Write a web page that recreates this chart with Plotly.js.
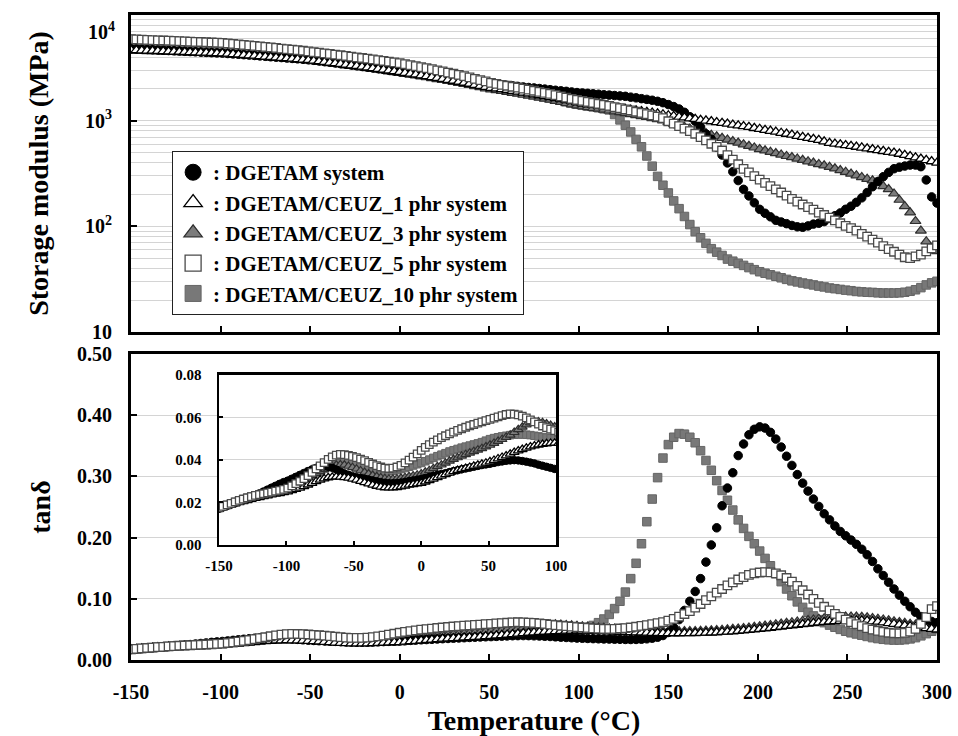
<!DOCTYPE html>
<html>
<head>
<meta charset="utf-8">
<script src="https://cdn.plot.ly/plotly-3.0.1.min.js"></script>
<style>
html,body{margin:0;padding:0;background:#fff;}
#chart{width:958px;height:736px;}
</style>
</head>
<body>
<div id="chart"></div>
<script>
// ---------------- DATA ----------------
const temperature = [
-150,-147,-144,-141,-138,-135,-132,-129,-126,-123,
-120,-117,-114,-111,-108,-105,-102,-99,-96,-93,
-90,-87,-84,-81,-78,-75,-72,-69,-66,-63,
-60,-57,-54,-51,-48,-45,-42,-39,-36,-33,
-30,-27,-24,-21,-18,-15,-12,-9,-6,-3,
0,3,6,9,12,15,18,21,24,27,
30,33,36,39,42,45,48,51,54,57,
60,63,66,69,72,75,78,81,84,87,
90,93,96,99,102,105,108,111,114,117,
120,123,126,129,132,135,138,141,144,147,
150,153,156,159,162,165,168,171,174,177,
180,183,186,189,192,195,198,201,204,207,
210,213,216,219,222,225,228,231,234,237,
240,243,246,249,252,255,258,261,264,267,
270,273,276,279,282,285,288,291,294,297,
300];

// Storage modulus (MPa)
const E_DGETAM = [
4800,4770,4745,4720,4690,4665,4640,4610,4585,4560,
4530,4505,4480,4450,4425,4400,4380,4360,4320,4285,
4250,4210,4175,4140,4100,4065,4025,3990,3955,3915,
3880,3845,3805,3770,3725,3675,3620,3570,3520,3465,
3415,3365,3310,3260,3210,3155,3105,3055,3000,2950,
2900,2860,2820,2780,2740,2700,2660,2620,2585,2545,
2505,2465,2425,2385,2345,2305,2270,2230,2205,2180,
2155,2135,2110,2085,2060,2040,2015,1990,1965,1940,
1915,1895,1870,1845,1830,1815,1795,1780,1760,1745,
1730,1715,1700,1670,1645,1615,1590,1560,1525,1480,
1420,1360,1290,1200,1090,990,870,750,668,562,
473,398,329,271,224,194,167,145,133,123,
114,110,106,102,99,98,101,105,107,111,
119,126,134,145,155,169,186,209,237,266,
295,324,351,363,372,380,380,367,275,190,
166];
const E_CEUZ1 = [
4650,4630,4610,4595,4575,4555,4535,4515,4495,4480,
4460,4440,4420,4400,4385,4365,4345,4325,4290,4255,
4220,4180,4145,4110,4070,4035,3995,3960,3925,3885,
3850,3815,3775,3740,3690,3640,3590,3540,3490,3440,
3385,3335,3285,3235,3185,3135,3085,3035,2980,2930,
2880,2830,2780,2730,2680,2630,2580,2530,2480,2430,
2380,2330,2280,2230,2180,2130,2080,2040,2015,1980,
1945,1910,1875,1840,1805,1770,1735,1700,1665,1630,
1595,1560,1525,1490,1445,1425,1405,1385,1365,1345,
1325,1305,1285,1265,1245,1225,1205,1185,1165,1145,
1120,1105,1085,1070,1050,1035,1015,1000,985,965,
950,935,915,900,885,870,850,835,815,800,
785,765,750,735,715,700,685,670,655,635,
615,605,595,585,575,565,555,545,535,525,
515,505,497,485,473,460,448,435,423,412,
400];
const E_CEUZ3 = [
4600,4580,4565,4545,4530,4510,4490,4475,4455,4440,
4420,4400,4385,4365,4350,4330,4310,4295,4260,4220,
4185,4150,4110,4075,4035,4000,3960,3925,3890,3850,
3815,3775,3740,3705,3645,3595,3545,3490,3440,3390,
3335,3285,3230,3180,3130,3075,3025,2975,2920,2870,
2820,2770,2720,2670,2620,2570,2520,2470,2420,2370,
2320,2270,2220,2170,2120,2070,2020,1975,1940,1905,
1865,1830,1795,1755,1720,1685,1645,1610,1575,1535,
1500,1465,1425,1390,1365,1340,1315,1295,1270,1245,
1220,1200,1175,1150,1125,1100,1080,1055,1030,1005,
966,933,902,871,841,813,785,759,733,708,
684,661,638,617,596,575,556,537,521,506,
491,476,462,450,437,424,411,399,387,376,
365,352,339,327,314,303,292,281,271,260,
240,224,204,178,155,135,112,91,72,62,
58];
const E_CEUZ5 = [
5900,5875,5845,5820,5790,5765,5740,5710,5685,5655,
5630,5605,5575,5550,5520,5495,5470,5440,5385,5330,
5270,5215,5155,5100,5045,4985,4930,4875,4815,4760,
4700,4645,4590,4530,4460,4400,4340,4280,4220,4160,
4100,4040,3980,3920,3860,3800,3740,3680,3620,3560,
3500,3430,3355,3285,3210,3140,3070,2995,2925,2850,
2780,2710,2635,2565,2490,2420,2350,2275,2230,2185,
2140,2095,2055,2010,1965,1920,1875,1830,1790,1745,
1700,1655,1610,1570,1540,1505,1475,1440,1410,1380,
1345,1315,1280,1250,1215,1185,1155,1120,1090,1055,
988,936,887,841,798,752,700,650,605,565,
522,472,428,387,350,324,299,277,258,240,
224,209,195,182,171,161,152,144,135,128,
121,114,107,101,96,91,85,80,75,70,
65,61,57.5,54,51,50,52,54,58,62,
66];
const E_CEUZ10 = [
5200,5175,5150,5130,5105,5080,5055,5030,5005,4985,
4960,4935,4910,4885,4860,4840,4815,4790,4745,4700,
4655,4610,4565,4520,4475,4430,4385,4340,4295,4250,
4205,4160,4115,4070,4015,3955,3900,3845,3785,3730,
3670,3615,3560,3500,3445,3385,3330,3270,3215,3155,
3100,3045,2985,2930,2870,2815,2760,2700,2645,2585,
2530,2470,2415,2360,2300,2245,2185,2130,2090,2045,
2000,1955,1910,1870,1825,1780,1735,1690,1650,1605,
1560,1515,1470,1430,1400,1375,1350,1325,1295,1265,
1143,1017,906,782,665,566,463,371,297,245,
207,174,147,124,104,89,78,69,61.5,57,
53,49,46.8,44.7,42.7,40.7,38.9,37.2,36,34.8,
33.7,32.6,31.5,30.5,29.8,29.1,28.5,27.9,27.2,26.7,
26.1,25.7,25.3,24.9,24.6,24.2,24.0,23.8,23.7,23.5,
23.4,23.4,23.4,23.5,23.8,24.3,25.1,26.3,27.9,29.2,
30.2];

// tan delta
const tan_DGETAM = [
0.0170,0.0177,0.0184,0.0191,0.0198,0.0205,0.0212,0.0219,0.0227,0.0235,
0.0243,0.0252,0.0261,0.0270,0.0279,0.0288,0.0296,0.0303,0.0312,0.0321,
0.0330,0.0339,0.0348,0.0356,0.0363,0.0368,0.0370,0.0368,0.0363,0.0355,
0.0345,0.0337,0.0330,0.0324,0.0319,0.0315,0.0312,0.0308,0.0304,0.0300,
0.0296,0.0293,0.0291,0.0291,0.0292,0.0294,0.0297,0.0301,0.0304,0.0307,
0.0310,0.0315,0.0320,0.0325,0.0330,0.0334,0.0338,0.0343,0.0348,0.0352,
0.0356,0.0360,0.0364,0.0368,0.0372,0.0376,0.0379,0.0382,0.0386,0.0390,
0.0393,0.0396,0.0398,0.0399,0.0398,0.0395,0.0392,0.0388,0.0384,0.0378,
0.0373,0.0368,0.0363,0.0358,0.0355,0.0352,0.0349,0.0346,0.0344,0.0342,
0.0340,0.0338,0.0336,0.0335,0.0336,0.0340,0.0346,0.0356,0.0372,0.0400,
0.0450,0.0530,0.0660,0.0810,0.0960,0.1120,0.1330,0.1600,0.1880,0.2160,
0.2520,0.2810,0.3060,0.3340,0.3530,0.3680,0.3770,0.3810,0.3790,0.3720,
0.3610,0.3480,0.3330,0.3180,0.3030,0.2890,0.2760,0.2630,0.2510,0.2390,
0.2290,0.2190,0.2100,0.2030,0.1960,0.1890,0.1810,0.1720,0.1610,0.1490,
0.1380,0.1270,0.1160,0.1060,0.0960,0.0870,0.0780,0.0710,0.0660,0.0630,
0.0610];
const tan_CEUZ1 = [
0.0170,0.0176,0.0182,0.0188,0.0194,0.0200,0.0205,0.0210,0.0215,0.0220,
0.0224,0.0228,0.0232,0.0236,0.0240,0.0243,0.0247,0.0251,0.0256,0.0262,
0.0268,0.0275,0.0283,0.0291,0.0299,0.0306,0.0312,0.0317,0.0320,0.0321,
0.0320,0.0318,0.0315,0.0311,0.0306,0.0300,0.0294,0.0288,0.0282,0.0277,
0.0273,0.0270,0.0269,0.0269,0.0271,0.0274,0.0278,0.0282,0.0285,0.0288,
0.0291,0.0297,0.0304,0.0311,0.0318,0.0325,0.0332,0.0339,0.0346,0.0351,
0.0356,0.0361,0.0366,0.0371,0.0376,0.0381,0.0386,0.0392,0.0399,0.0406,
0.0413,0.0420,0.0428,0.0436,0.0443,0.0450,0.0456,0.0462,0.0467,0.0471,
0.0474,0.0477,0.0479,0.0480,0.0479,0.0477,0.0475,0.0472,0.0469,0.0466,
0.0462,0.0459,0.0456,0.0453,0.0450,0.0447,0.0444,0.0441,0.0439,0.0437,
0.0436,0.0435,0.0435,0.0436,0.0437,0.0439,0.0441,0.0444,0.0447,0.0451,
0.0456,0.0461,0.0467,0.0474,0.0481,0.0489,0.0497,0.0506,0.0515,0.0524,
0.0534,0.0544,0.0554,0.0564,0.0574,0.0584,0.0594,0.0603,0.0612,0.0620,
0.0627,0.0633,0.0638,0.0642,0.0645,0.0646,0.0644,0.0640,0.0633,0.0624,
0.0613,0.0601,0.0589,0.0576,0.0563,0.0551,0.0540,0.0529,0.0518,0.0507,
0.0496];
const tan_CEUZ3 = [
0.0173,0.0180,0.0187,0.0194,0.0201,0.0208,0.0214,0.0220,0.0226,0.0231,
0.0235,0.0239,0.0243,0.0247,0.0251,0.0255,0.0259,0.0264,0.0273,0.0283,
0.0294,0.0305,0.0316,0.0327,0.0337,0.0346,0.0355,0.0363,0.0370,0.0376,
0.0378,0.0376,0.0371,0.0365,0.0358,0.0350,0.0342,0.0335,0.0328,0.0322,
0.0317,0.0313,0.0311,0.0311,0.0312,0.0315,0.0318,0.0322,0.0326,0.0330,
0.0335,0.0343,0.0351,0.0360,0.0369,0.0377,0.0386,0.0395,0.0403,0.0411,
0.0419,0.0426,0.0433,0.0440,0.0447,0.0454,0.0462,0.0470,0.0479,0.0488,
0.0497,0.0507,0.0518,0.0530,0.0543,0.0555,0.0566,0.0575,0.0580,0.0580,
0.0576,0.0570,0.0563,0.0556,0.0549,0.0542,0.0535,0.0528,0.0522,0.0516,
0.0510,0.0505,0.0500,0.0496,0.0492,0.0488,0.0484,0.0480,0.0477,0.0474,
0.0472,0.0470,0.0469,0.0469,0.0470,0.0472,0.0474,0.0477,0.0481,0.0486,
0.0492,0.0498,0.0505,0.0512,0.0520,0.0529,0.0538,0.0548,0.0558,0.0569,
0.0580,0.0591,0.0603,0.0615,0.0627,0.0638,0.0649,0.0660,0.0670,0.0680,
0.0689,0.0697,0.0703,0.0707,0.0708,0.0706,0.0701,0.0693,0.0683,0.0671,
0.0658,0.0644,0.0630,0.0616,0.0603,0.0590,0.0578,0.0567,0.0557,0.0548,
0.0540];
const tan_CEUZ5 = [
0.0175,0.0182,0.0189,0.0196,0.0203,0.0210,0.0216,0.0222,0.0228,0.0233,
0.0237,0.0241,0.0245,0.0249,0.0253,0.0257,0.0262,0.0268,0.0278,0.0289,
0.0300,0.0312,0.0326,0.0342,0.0358,0.0372,0.0388,0.0403,0.0415,0.0423,
0.0426,0.0425,0.0422,0.0417,0.0411,0.0404,0.0397,0.0389,0.0381,0.0373,
0.0367,0.0362,0.0360,0.0362,0.0367,0.0375,0.0386,0.0399,0.0413,0.0429,
0.0445,0.0459,0.0472,0.0484,0.0495,0.0505,0.0514,0.0523,0.0531,0.0539,
0.0547,0.0554,0.0561,0.0567,0.0573,0.0579,0.0585,0.0591,0.0597,0.0603,
0.0609,0.0614,0.0617,0.0616,0.0612,0.0606,0.0598,0.0589,0.0579,0.0569,
0.0560,0.0552,0.0545,0.0538,0.0531,0.0524,0.0518,0.0513,0.0510,0.0509,
0.0510,0.0515,0.0522,0.0531,0.0543,0.0556,0.0570,0.0585,0.0601,0.0619,
0.0642,0.0672,0.0710,0.0752,0.0800,0.0855,0.0915,0.0978,0.1040,0.1100,
0.1160,0.1220,0.1270,0.1315,0.1355,0.1390,0.1415,0.1430,0.1437,0.1432,
0.1415,0.1385,0.1340,0.1280,0.1210,0.1140,0.1070,0.1000,0.0935,0.0870,
0.0810,0.0755,0.0705,0.0660,0.0620,0.0585,0.0552,0.0522,0.0497,0.0475,
0.0458,0.0445,0.0437,0.0435,0.0442,0.0462,0.0510,0.0590,0.0700,0.0830,
0.0880];
const tan_CEUZ10 = [
0.0175,0.0182,0.0189,0.0196,0.0203,0.0210,0.0217,0.0223,0.0229,0.0234,
0.0238,0.0242,0.0245,0.0249,0.0253,0.0257,0.0261,0.0266,0.0275,0.0285,
0.0296,0.0307,0.0318,0.0328,0.0337,0.0345,0.0360,0.0375,0.0388,0.0398,
0.0402,0.0400,0.0395,0.0390,0.0383,0.0376,0.0369,0.0362,0.0356,0.0352,
0.0349,0.0347,0.0347,0.0349,0.0352,0.0357,0.0362,0.0368,0.0374,0.0380,
0.0386,0.0394,0.0402,0.0410,0.0418,0.0425,0.0432,0.0440,0.0446,0.0452,
0.0458,0.0463,0.0468,0.0473,0.0478,0.0484,0.0491,0.0498,0.0503,0.0507,
0.0511,0.0514,0.0517,0.0519,0.0520,0.0520,0.0519,0.0517,0.0514,0.0511,
0.0508,0.0505,0.0502,0.0501,0.0510,0.0530,0.0565,0.0610,0.0670,0.0745,
0.0840,0.0960,0.1110,0.1330,0.1580,0.1900,0.2260,0.2630,0.2980,0.3300,
0.3520,0.3640,0.3700,0.3690,0.3640,0.3550,0.3420,0.3260,0.3100,0.2930,
0.2770,0.2610,0.2450,0.2290,0.2150,0.2020,0.1900,0.1780,0.1660,0.1540,
0.1410,0.1280,0.1160,0.1050,0.0950,0.0860,0.0780,0.0720,0.0660,0.0610,
0.0570,0.0535,0.0500,0.0470,0.0445,0.0425,0.0405,0.0385,0.0365,0.0350,
0.0338,0.0330,0.0326,0.0326,0.0332,0.0345,0.0365,0.0395,0.0430,0.0470,
0.0510];

const seriesLabels = [
  ': DGETAM system',
  ': DGETAM/CEUZ_1 phr system',
  ': DGETAM/CEUZ_3 phr system',
  ': DGETAM/CEUZ_5 phr system',
  ': DGETAM/CEUZ_10 phr system'
];
const xTickVals = [-150, -100, -50, 0, 50, 100, 150, 200, 250, 300];
const xTickText = ['-150', '-100', '-50', '0', '50', '100', '150', '200', '250', '300'];
const insetTickVals = [-150, -100, -50, 0, 50, 100];
const insetTickText = ['-150', '-100', '-50', '0', '50', '100'];
const yTickVals = [10, 100, 1000];
const yTickText = ['10', '10<sup>2</sup>', '10<sup>3</sup>'];

// ---------------- STYLE ----------------
const FONT = '"Liberation Serif", "Times New Roman", Times, serif';
const markerStyles = [
  {symbol: 'circle', color: '#000000', line: {color: '#000000', width: 1}},
  {symbol: 'triangle-up', color: '#ffffff', line: {color: '#000000', width: 1.3}},
  {symbol: 'triangle-up', color: '#7c7c7c', line: {color: '#2e2e2e', width: 1.2}},
  {symbol: 'square', color: '#ffffff', line: {color: '#4a4a4a', width: 1.3}},
  {symbol: 'square', color: '#787878', line: {color: '#656565', width: 1}}
];
const modulusSeries = [E_DGETAM, E_CEUZ1, E_CEUZ3, E_CEUZ5, E_CEUZ10];
const tanSeries = [tan_DGETAM, tan_CEUZ1, tan_CEUZ3, tan_CEUZ5, tan_CEUZ10];
const drawOrder = [4, 2, 0, 1, 3];

const traces = [];
function mk(st, size) {
  return {symbol: st.symbol, color: st.color, size: size, line: st.line};
}
drawOrder.forEach(k => {
  const st = markerStyles[k];
  const big = st.symbol === 'triangle-up' ? 9.5 : 8.5;
  traces.push({type: 'scatter', mode: 'markers', x: temperature, y: modulusSeries[k],
    xaxis: 'x', yaxis: 'y', marker: mk(st, big), showlegend: false, hoverinfo: 'skip'});
  traces.push({type: 'scatter', mode: 'markers', x: temperature, y: tanSeries[k],
    xaxis: 'x2', yaxis: 'y2', marker: mk(st, big), showlegend: false, hoverinfo: 'skip'});
  traces.push({type: 'scatter', mode: 'markers', x: temperature, y: tanSeries[k],
    xaxis: 'x3', yaxis: 'y3', marker: mk(st, big - 1), showlegend: false, hoverinfo: 'skip'});
});
// legend entries (no data points of their own)
markerStyles.forEach((st, k) => {
  traces.push({type: 'scatter', mode: 'markers', x: [null], y: [null],
    xaxis: 'x', yaxis: 'y', name: seriesLabels[k], legendrank: k + 1,
    marker: mk(st, 16), showlegend: true});
});

const minorGrid = [];
[10, 100, 1000].forEach(d => { for (let m = 2; m <= 9; m++) minorGrid.push(m * d); });

const frame = {showline: true, linewidth: 3, linecolor: '#000', mirror: true, zeroline: false};
const tickFont = {family: FONT, size: 20, color: '#000', weight: 'bold'};
const insetFont = {family: FONT, size: 15, color: '#000', weight: 'bold'};
const titleFont = {family: FONT, size: 28, color: '#000', weight: 'bold'};
const gridC = '#d4d4d4';

const layout = {
  width: 958, height: 736,
  margin: {l: 131, r: 21, t: 15, b: 76, pad: 0},
  paper_bgcolor: '#ffffff', plot_bgcolor: '#ffffff',
  font: {family: FONT, size: 20, color: '#000', weight: 'bold'},
  showlegend: true,
  legend: {x: 0.051, y: 0.789, xanchor: 'left', yanchor: 'top',
    bgcolor: '#ffffff', bordercolor: '#222', borderwidth: 1,
    font: {family: FONT, size: 21, color: '#000', weight: 'bold'},
    traceorder: 'normal', itemwidth: 30},
  xaxis: Object.assign({}, frame, {domain: [0, 1], anchor: 'y', range: [-150, 300],
    tickmode: 'array', tickvals: xTickVals, ticks: 'inside', ticklen: 6, tickwidth: 2, tickcolor: '#000',
    showticklabels: false, showgrid: false}),
  yaxis: Object.assign({}, frame, {domain: [0.5085, 1], anchor: 'x', type: 'log', range: [1, 4],
    tickmode: 'array', tickvals: yTickVals, ticktext: yTickText,
    ticks: 'inside', ticklen: 6, tickwidth: 2, tickcolor: '#000', tickfont: tickFont,
    ticklabelstandoff: 12,
    showgrid: true, gridcolor: gridC, gridwidth: 1,
    minor: {tickmode: 'array', tickvals: minorGrid, showgrid: true, gridcolor: gridC, gridwidth: 1, ticks: ''},
    title: {text: 'Storage modulus (MPa)', font: titleFont, standoff: 29}}),
  xaxis2: Object.assign({}, frame, {domain: [0, 1], anchor: 'y2', range: [-150, 300],
    tickmode: 'array', tickvals: xTickVals, ticktext: xTickText,
    ticks: 'inside', ticklen: 6, tickwidth: 2, tickcolor: '#000',
    tickfont: tickFont, ticklabelstandoff: 12, showgrid: false,
    title: {text: 'Temperature (°C)', font: titleFont, standoff: 12}}),
  yaxis2: Object.assign({}, frame, {domain: [0, 0.4744], anchor: 'x2', range: [0, 0.5],
    tick0: 0, dtick: 0.1, tickformat: '.2f', ticks: 'inside', ticklen: 6, tickwidth: 2,
    tickcolor: '#000', tickfont: tickFont, ticklabelstandoff: 12,
    showgrid: true, gridcolor: gridC, gridwidth: 1,
    title: {text: 'tanδ', font: titleFont, standoff: 19}}),
  xaxis3: Object.assign({}, frame, {linewidth: 2.5, domain: [0.1092, 0.5273], anchor: 'y3',
    range: [-150, 100], tickmode: 'array', tickvals: insetTickVals, ticktext: insetTickText,
    ticks: 'inside', ticklen: 4, tickwidth: 2,
    tickcolor: '#000', tickfont: insetFont, ticklabelstandoff: 6, showgrid: false}),
  yaxis3: Object.assign({}, frame, {linewidth: 2.5, domain: [0.1783, 0.4419], anchor: 'x3',
    range: [0, 0.08], tick0: 0, dtick: 0.02, tickformat: '.2f', ticks: 'inside', ticklen: 4,
    tickwidth: 2, tickcolor: '#000', tickfont: insetFont,
    ticklabelstandoff: 12, showgrid: true, gridcolor: gridC, gridwidth: 1}),
  annotations: [
    {xref: 'paper', yref: 'paper', x: -0.0174, y: 0.975, xanchor: 'right', yanchor: 'middle',
     text: '10<sup>4</sup>', showarrow: false, font: tickFont}
  ]
};

Plotly.newPlot('chart', traces, layout, {displayModeBar: false, staticPlot: true});
</script>
</body>
</html>
